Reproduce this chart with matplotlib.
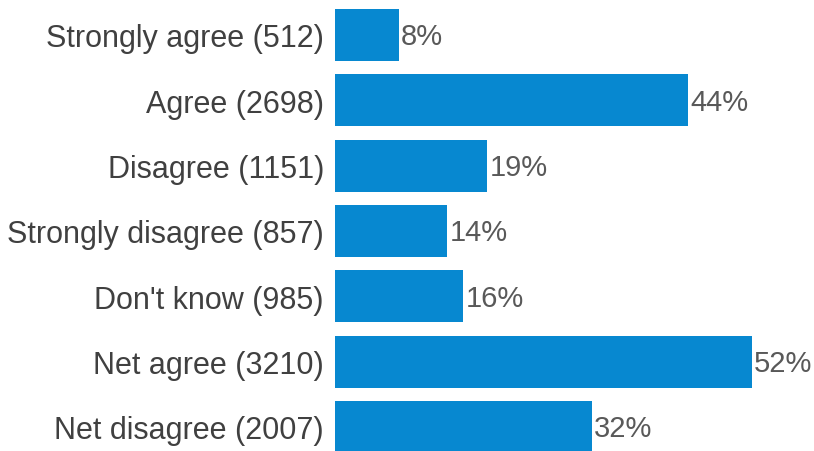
import matplotlib
matplotlib.use("Agg")
import matplotlib.pyplot as plt

categories = ["Strongly agree (512)", "Agree (2698)", "Disagree (1151)",
              "Strongly disagree (857)", "Don't know (985)", "Net agree (3210)",
              "Net disagree (2007)"]
values = [8, 44, 19, 14, 16, 52, 32]
value_labels = ["8%", "44%", "19%", "14%", "16%", "52%", "32%"]

plt.rcParams['font.family'] = ['Liberation Sans', 'DejaVu Sans']

fig = plt.figure(figsize=(8.14, 4.52), dpi=100)
ax = fig.add_axes([335/814, 0, (752-335)/814, 1])

y = list(range(len(categories)))
bars = ax.barh(y, values, height=0.8, color="#0788D0")
ax.set_xlim(0, 52)
ax.set_ylim(416/65.33, -36/65.33)

ax.set_yticks(y)
ax.set_yticklabels(categories, fontsize=22, color="#404040")
ax.tick_params(axis='y', length=0, pad=8)
ax.set_xticks([])
for s in ax.spines.values():
    s.set_visible(False)

for bar, lab in zip(bars, value_labels):
    ax.annotate(lab, (bar.get_width(), bar.get_y() + bar.get_height()/2),
                xytext=(1.5, -1), textcoords="offset points", va="center", ha="left",
                fontsize=21, color="#595959", annotation_clip=False)

fig.savefig("out.png", dpi=100)
